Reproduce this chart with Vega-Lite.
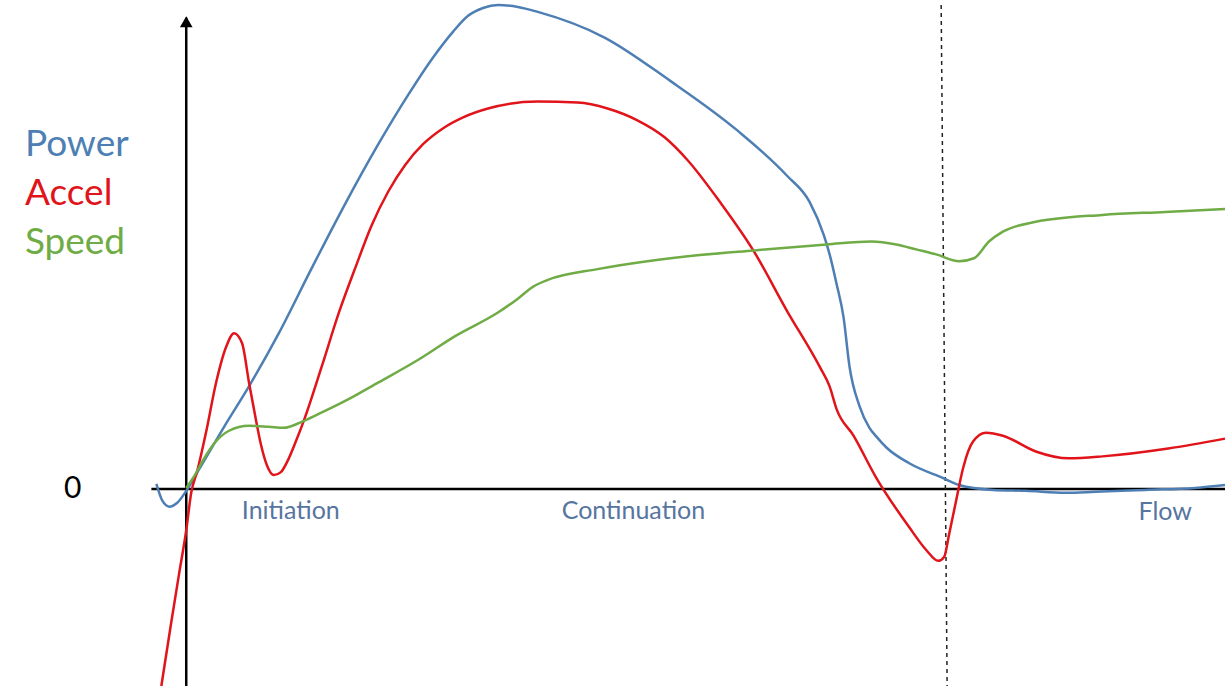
{
  "$schema": "https://vega.github.io/schema/vega-lite/v6.json",
  "width": 1230,
  "height": 691,
  "autosize": {"type": "fit", "contains": "padding"},
  "padding": 0,
  "background": "white",
  "config": {"view": {"stroke": null}},
  "datasets": {
    "curves": [
      {"series": "Power", "x": 157, "y": 5}, {"series": "Power", "x": 163, "y": -12}, {"series": "Power", "x": 170, "y": -18}, {"series": "Power", "x": 178, "y": -14}, {"series": "Power", "x": 187, "y": -2}, {"series": "Power", "x": 200, "y": 20}, {"series": "Power", "x": 225, "y": 63}, {"series": "Power", "x": 250, "y": 104}, {"series": "Power", "x": 280, "y": 158}, {"series": "Power", "x": 313, "y": 224}, {"series": "Power", "x": 347, "y": 290}, {"series": "Power", "x": 380, "y": 350}, {"series": "Power", "x": 410, "y": 400}, {"series": "Power", "x": 435, "y": 438}, {"series": "Power", "x": 455, "y": 464}, {"series": "Power", "x": 470, "y": 480}, {"series": "Power", "x": 485, "y": 488}, {"series": "Power", "x": 500, "y": 491}, {"series": "Power", "x": 520, "y": 489}, {"series": "Power", "x": 540, "y": 484}, {"series": "Power", "x": 607, "y": 458}, {"series": "Power", "x": 673, "y": 414}, {"series": "Power", "x": 740, "y": 364}, {"series": "Power", "x": 790, "y": 318}, {"series": "Power", "x": 813, "y": 291}, {"series": "Power", "x": 827, "y": 258}, {"series": "Power", "x": 833, "y": 238}, {"series": "Power", "x": 840, "y": 208}, {"series": "Power", "x": 847, "y": 174}, {"series": "Power", "x": 853, "y": 124}, {"series": "Power", "x": 863, "y": 84}, {"series": "Power", "x": 873, "y": 62}, {"series": "Power", "x": 880, "y": 53}, {"series": "Power", "x": 890, "y": 42}, {"series": "Power", "x": 913, "y": 26}, {"series": "Power", "x": 947, "y": 11}, {"series": "Power", "x": 963, "y": 4}, {"series": "Power", "x": 997, "y": -1}, {"series": "Power", "x": 1030, "y": -2}, {"series": "Power", "x": 1070, "y": -4}, {"series": "Power", "x": 1100, "y": -3}, {"series": "Power", "x": 1150, "y": -1}, {"series": "Power", "x": 1200, "y": 1}, {"series": "Power", "x": 1230, "y": 4},
      {"series": "Accel", "x": 162, "y": -200}, {"series": "Accel", "x": 172, "y": -135}, {"series": "Accel", "x": 180, "y": -85}, {"series": "Accel", "x": 187, "y": -42}, {"series": "Accel", "x": 192, "y": -4}, {"series": "Accel", "x": 198, "y": 18}, {"series": "Accel", "x": 207, "y": 58}, {"series": "Accel", "x": 217, "y": 108}, {"series": "Accel", "x": 227, "y": 144}, {"series": "Accel", "x": 235, "y": 158}, {"series": "Accel", "x": 243, "y": 148}, {"series": "Accel", "x": 250, "y": 108}, {"series": "Accel", "x": 257, "y": 70}, {"series": "Accel", "x": 262, "y": 45}, {"series": "Accel", "x": 268, "y": 24}, {"series": "Accel", "x": 275, "y": 14}, {"series": "Accel", "x": 282, "y": 17}, {"series": "Accel", "x": 290, "y": 31}, {"series": "Accel", "x": 297, "y": 48}, {"series": "Accel", "x": 305, "y": 69}, {"series": "Accel", "x": 323, "y": 124}, {"series": "Accel", "x": 340, "y": 178}, {"series": "Accel", "x": 357, "y": 225}, {"series": "Accel", "x": 373, "y": 267}, {"series": "Accel", "x": 390, "y": 302}, {"series": "Accel", "x": 407, "y": 329}, {"series": "Accel", "x": 425, "y": 350}, {"series": "Accel", "x": 445, "y": 366}, {"series": "Accel", "x": 465, "y": 377}, {"series": "Accel", "x": 490, "y": 386}, {"series": "Accel", "x": 540, "y": 393}, {"series": "Accel", "x": 580, "y": 392}, {"series": "Accel", "x": 610, "y": 386}, {"series": "Accel", "x": 640, "y": 374}, {"series": "Accel", "x": 667, "y": 357}, {"series": "Accel", "x": 690, "y": 334}, {"series": "Accel", "x": 723, "y": 291}, {"series": "Accel", "x": 757, "y": 241}, {"series": "Accel", "x": 790, "y": 181}, {"series": "Accel", "x": 823, "y": 124}, {"series": "Accel", "x": 833, "y": 104}, {"series": "Accel", "x": 840, "y": 81}, {"series": "Accel", "x": 857, "y": 54}, {"series": "Accel", "x": 880, "y": 11}, {"series": "Accel", "x": 913, "y": -39}, {"series": "Accel", "x": 930, "y": -62}, {"series": "Accel", "x": 942, "y": -73}, {"series": "Accel", "x": 948, "y": -69}, {"series": "Accel", "x": 953, "y": -46}, {"series": "Accel", "x": 960, "y": -12}, {"series": "Accel", "x": 967, "y": 21}, {"series": "Accel", "x": 977, "y": 48}, {"series": "Accel", "x": 990, "y": 57}, {"series": "Accel", "x": 1007, "y": 54}, {"series": "Accel", "x": 1040, "y": 38}, {"series": "Accel", "x": 1073, "y": 31}, {"series": "Accel", "x": 1107, "y": 33}, {"series": "Accel", "x": 1173, "y": 41}, {"series": "Accel", "x": 1230, "y": 51},
      {"series": "Speed", "x": 187, "y": 1}, {"series": "Speed", "x": 195, "y": 13}, {"series": "Speed", "x": 205, "y": 31}, {"series": "Speed", "x": 215, "y": 46}, {"series": "Speed", "x": 230, "y": 59}, {"series": "Speed", "x": 250, "y": 64}, {"series": "Speed", "x": 270, "y": 63}, {"series": "Speed", "x": 285, "y": 62}, {"series": "Speed", "x": 303, "y": 68}, {"series": "Speed", "x": 320, "y": 76}, {"series": "Speed", "x": 350, "y": 91}, {"series": "Speed", "x": 380, "y": 108}, {"series": "Speed", "x": 420, "y": 131}, {"series": "Speed", "x": 457, "y": 155}, {"series": "Speed", "x": 500, "y": 179}, {"series": "Speed", "x": 520, "y": 193}, {"series": "Speed", "x": 535, "y": 205}, {"series": "Speed", "x": 550, "y": 212}, {"series": "Speed", "x": 600, "y": 223}, {"series": "Speed", "x": 650, "y": 231}, {"series": "Speed", "x": 700, "y": 237}, {"series": "Speed", "x": 757, "y": 242}, {"series": "Speed", "x": 830, "y": 248}, {"series": "Speed", "x": 875, "y": 251}, {"series": "Speed", "x": 900, "y": 248}, {"series": "Speed", "x": 920, "y": 243}, {"series": "Speed", "x": 940, "y": 238}, {"series": "Speed", "x": 963, "y": 231}, {"series": "Speed", "x": 978, "y": 234}, {"series": "Speed", "x": 993, "y": 251}, {"series": "Speed", "x": 1007, "y": 261}, {"series": "Speed", "x": 1040, "y": 271}, {"series": "Speed", "x": 1107, "y": 278}, {"series": "Speed", "x": 1170, "y": 281}, {"series": "Speed", "x": 1230, "y": 284}
    ],
    "axes": [
      {"x": 152, "y": 0, "x2": 1230, "y2": 0},
      {"x": 187, "y": -200, "x2": 187, "y2": 478}
    ],
    "divider": [
      {"x": 945, "y": 491, "x2": 951, "y2": -200}
    ],
    "arrow": [
      {"x": 187, "y": 474}
    ],
    "legend": [
      {"series": "Power", "x": 25, "y": 349},
      {"series": "Accel", "x": 25, "y": 299},
      {"series": "Speed", "x": 25, "y": 250}
    ],
    "zero": [
      {"label": "0", "x": 73, "y": 0}
    ],
    "phases": [
      {"label": "Initiation", "x": 292, "y": -22},
      {"label": "Continuation", "x": 636, "y": -22},
      {"label": "Flow", "x": 1170, "y": -23}
    ]
  },
  "layer": [
    {
      "data": {"name": "axes"},
      "mark": {"type": "rule", "color": "black", "strokeWidth": 2.5},
      "encoding": {
        "x": {"field": "x", "type": "quantitative", "scale": {"domain": [0, 1230], "nice": false, "zero": false}, "axis": null},
        "y": {"field": "y", "type": "quantitative", "scale": {"domain": [-200, 491], "nice": false, "zero": false}, "axis": null},
        "x2": {"field": "x2"},
        "y2": {"field": "y2"}
      }
    },
    {
      "data": {"name": "divider"},
      "mark": {"type": "rule", "color": "#222222", "strokeWidth": 1.5, "strokeDash": [4, 4]},
      "encoding": {
        "x": {"field": "x", "type": "quantitative"},
        "y": {"field": "y", "type": "quantitative"},
        "x2": {"field": "x2"},
        "y2": {"field": "y2"}
      }
    },
    {
      "data": {"name": "arrow"},
      "mark": {"type": "point", "shape": "triangle-up", "filled": true, "color": "black", "size": 160, "opacity": 1},
      "encoding": {
        "x": {"field": "x", "type": "quantitative"},
        "y": {"field": "y", "type": "quantitative"}
      }
    },
    {
      "data": {"name": "curves"},
      "mark": {"type": "line", "interpolate": "monotone", "strokeWidth": 2.5},
      "encoding": {
        "x": {"field": "x", "type": "quantitative"},
        "y": {"field": "y", "type": "quantitative"},
        "color": {"field": "series", "type": "nominal", "scale": {"domain": ["Power", "Accel", "Speed"], "range": ["#4e7fb4", "#e0141a", "#6fac46"]}, "legend": null},
        "detail": {"field": "series"}
      }
    },
    {
      "data": {"name": "legend"},
      "mark": {"type": "text", "align": "left", "baseline": "middle", "font": "Lato", "fontSize": 37},
      "encoding": {
        "x": {"field": "x", "type": "quantitative"},
        "y": {"field": "y", "type": "quantitative"},
        "text": {"field": "series"},
        "color": {"field": "series", "type": "nominal", "legend": null}
      }
    },
    {
      "data": {"name": "zero"},
      "mark": {"type": "text", "align": "center", "baseline": "middle", "font": "Lato", "fontSize": 30, "color": "black"},
      "encoding": {
        "x": {"field": "x", "type": "quantitative"},
        "y": {"field": "y", "type": "quantitative"},
        "text": {"field": "label"}
      }
    },
    {
      "data": {"name": "phases"},
      "mark": {"type": "text", "align": "center", "baseline": "middle", "font": "Lato", "fontSize": 25, "color": "#56759f"},
      "encoding": {
        "x": {"field": "x", "type": "quantitative"},
        "y": {"field": "y", "type": "quantitative"},
        "text": {"field": "label"}
      }
    }
  ]
}
